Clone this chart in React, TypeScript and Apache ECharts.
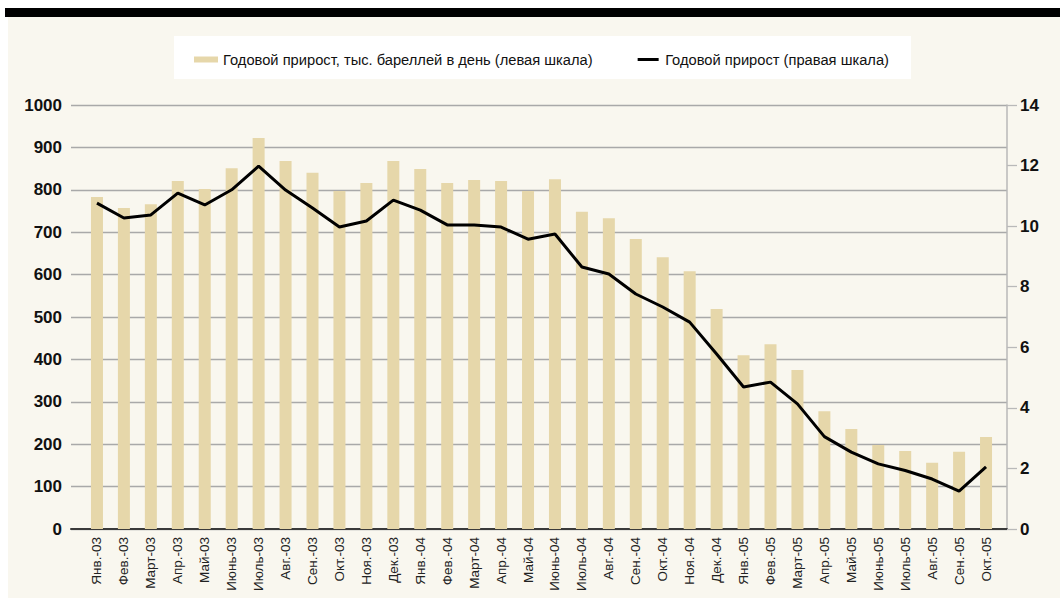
import React, { useEffect, useRef } from "react";
import * as echarts from "echarts";

const categories = [
  "Янв.-03", "Фев.-03", "Март-03", "Апр.-03", "Май-03", "Июнь-03", "Июль-03", "Авг.-03", "Сен.-03", "Окт.-03", "Ноя.-03", "Дек.-03",
  "Янв.-04", "Фев.-04", "Март-04", "Апр.-04", "Май-04", "Июнь-04", "Июль-04", "Авг.-04", "Сен.-04", "Окт.-04", "Ноя.-04", "Дек.-04",
  "Янв.-05", "Фев.-05", "Март-05", "Апр.-05", "Май-05", "Июнь-05", "Июль-05", "Авг.-05", "Сен.-05", "Окт.-05",
];

const barValues = [
  783, 757, 766, 821, 802, 851, 922, 868, 840, 797, 816, 868,
  849, 816, 823, 821, 797, 825, 748, 733, 684, 641, 608, 519,
  410, 436, 375, 278, 236, 198, 184, 156, 182, 217,
];

const lineValues = [
  10.76, 10.27, 10.37, 11.09, 10.7, 11.2, 11.98, 11.19, 10.6, 9.97, 10.17, 10.86,
  10.53, 10.04, 10.04, 9.97, 9.57, 9.74, 8.65, 8.42, 7.76, 7.33, 6.83, 5.78,
  4.69, 4.85, 4.13, 3.05, 2.54, 2.15, 1.93, 1.65, 1.25, 2.05,
];

const barName = "Годовой прирост, тыс. бареллей в день (левая шкала)";
const lineName = "Годовой прирост (правая шкала)";

const leftMin = 0;
const leftMax = 1000;
const leftStep = 100;
const rightMin = 0;
const rightMax = 14;
const rightStep = 2;

const FONT = "'Liberation Sans Narrow', 'Liberation Sans', Arial, sans-serif";

export default function App() {
  const ref = useRef<HTMLDivElement>(null);

  useEffect(() => {
    document.body.style.margin = "0";
    if (!ref.current) return;
    const chart = echarts.init(ref.current, undefined, { renderer: "svg" });
    chart.setOption({
      animation: false,
      backgroundColor: "#ffffff",
      textStyle: { fontFamily: FONT },
      graphic: [
        { type: "rect", z: -20, silent: true, shape: { x: 5, y: 8, width: 1055, height: 9 }, style: { fill: "#000000" } },
        { type: "rect", z: -20, silent: true, shape: { x: 8, y: 17, width: 1052, height: 581 }, style: { fill: "#f9f7ef" } },
        { type: "rect", z: -19, silent: true, shape: { x: 174, y: 36, width: 737, height: 43 }, style: { fill: "#ffffff" } },
      ],
      legend: {
        left: 189,
        top: 47,
        itemWidth: 24,
        itemHeight: 6,
        itemGap: 42,
        textStyle: { fontFamily: FONT, fontSize: 14.7, color: "#111111" },
        data: [
          { name: barName, icon: "rect" },
          { name: lineName, icon: "rect", itemStyle: { color: "#000000", borderColor: "#ffffff", borderWidth: 3 } },
        ],
      },
      grid: [
        { left: 71, top: 105, width: 936, height: 424 },
        { left: 83.5, top: 105, width: 916, height: 424 },
      ],
      xAxis: [
        {
          gridIndex: 0,
          type: "value",
          min: 0,
          max: 1,
          axisLine: { show: true, lineStyle: { color: "#3a3a3a", width: 2 } },
          axisTick: { show: false },
          axisLabel: { show: false },
          splitLine: { show: false },
        },
        {
          gridIndex: 1,
          type: "category",
          data: categories,
          axisLine: { show: false },
          axisTick: { show: false },
          axisLabel: { rotate: 90, interval: 0, margin: 8, fontSize: 13.5, color: "#222222", fontFamily: FONT },
        },
      ],
      yAxis: [
        {
          gridIndex: 0,
          type: "value",
          position: "left",
          min: leftMin,
          max: leftMax,
          interval: leftStep,
          axisLine: { show: false },
          axisTick: { show: false },
          axisLabel: {
            margin: 9,
            fontSize: 17,
            fontWeight: "bold",
            color: "#111111",
            fontFamily: FONT,
            formatter: (v: number) => String(v),
          },
          splitLine: { show: true, lineStyle: { color: "#a9a9a9", width: 1.3 } },
        },
        {
          gridIndex: 0,
          type: "value",
          position: "right",
          min: rightMin,
          max: rightMax,
          interval: rightStep,
          axisLine: { show: true, lineStyle: { color: "#b9b9b9", width: 1.5 } },
          axisTick: { show: true, inside: false, length: 10, lineStyle: { color: "#b9b9b9", width: 1.3 } },
          axisLabel: {
            margin: 13,
            fontSize: 17,
            fontWeight: "bold",
            color: "#111111",
            fontFamily: FONT,
            formatter: (v: number) => String(v),
          },
          splitLine: { show: false },
        },
        { gridIndex: 1, type: "value", min: leftMin, max: leftMax, show: false },
        { gridIndex: 1, type: "value", min: rightMin, max: rightMax, show: false },
      ],
      series: [
        {
          name: barName,
          type: "bar",
          xAxisIndex: 1,
          yAxisIndex: 2,
          data: barValues,
          barWidth: 12,
          itemStyle: { color: "#e6d7aa" },
        },
        {
          name: lineName,
          type: "line",
          xAxisIndex: 1,
          yAxisIndex: 3,
          data: lineValues,
          symbol: "none",
          z: 5,
          lineStyle: { color: "#000000", width: 3 },
          itemStyle: { color: "#000000" },
        },
      ],
    });
    return () => chart.dispose();
  }, []);

  return <div ref={ref} style={{ width: 1060, height: 601 }} />;
}
